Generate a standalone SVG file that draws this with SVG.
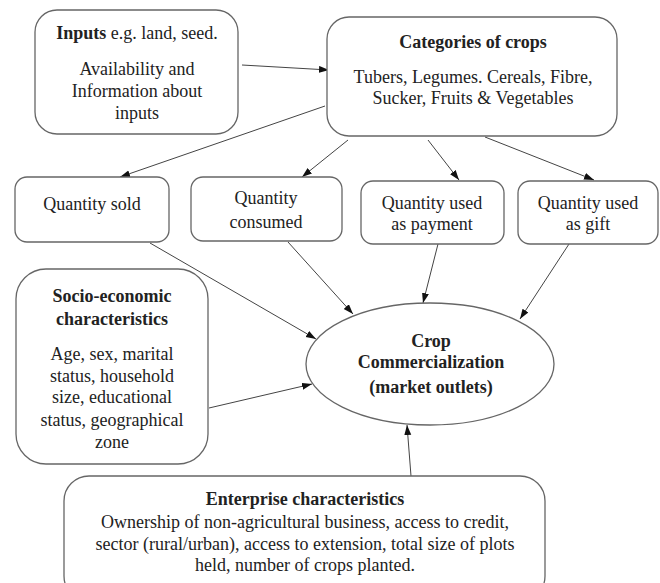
<svg xmlns="http://www.w3.org/2000/svg" width="660" height="583" viewBox="0 0 660 583">
<style>
.box{fill:#fff;stroke:#666;stroke-width:1.3}
.t{font-family:"Liberation Serif","Times New Roman",serif;font-size:18px;fill:#222;text-anchor:middle}
.b{font-weight:bold}
.c{stroke:#444;stroke-width:1;fill:none;marker-end:url(#ah)}
</style>
<defs>
<marker id="ah" markerUnits="userSpaceOnUse" markerWidth="11" markerHeight="8" refX="10" refY="3.5" orient="auto">
<path d="M0,0 L10,3.5 L0,7 z" fill="#111"/>
</marker>
</defs>
<rect width="660" height="583" fill="#fff"/>
<g id="connectors">
<line class="c" x1="242" y1="65" x2="329" y2="70"/>
<line class="c" x1="325" y1="106" x2="120" y2="177"/>
<line class="c" x1="348" y1="140" x2="302" y2="177"/>
<line class="c" x1="428" y1="140" x2="459" y2="180"/>
<line class="c" x1="485" y1="137" x2="594" y2="180"/>
<line class="c" x1="150" y1="243" x2="316" y2="339"/>
<line class="c" x1="288" y1="242" x2="353" y2="314"/>
<line class="c" x1="438" y1="244" x2="423" y2="303"/>
<line class="c" x1="569" y1="244" x2="520" y2="319"/>
<line class="c" x1="209" y1="408" x2="312" y2="384"/>
<line class="c" x1="411" y1="476" x2="407" y2="425"/>
</g>
<g id="inputs">
<rect class="box" x="35" y="10" width="203" height="124" rx="22"/>
<text class="t" x="137" y="39"><tspan class="b">Inputs</tspan> e.g. land, seed.</text>
<text class="t" x="137" y="75">Availability and</text>
<text class="t" x="137" y="97">Information about</text>
<text class="t" x="137" y="119">inputs</text>
</g>
<g id="categories">
<rect class="box" x="327" y="17" width="290" height="119" rx="22"/>
<text class="t b" x="473" y="48">Categories of crops</text>
<text class="t" x="473" y="83">Tubers, Legumes. Cereals, Fibre,</text>
<text class="t" x="473" y="104">Sucker, Fruits &amp; Vegetables</text>
</g>
<g id="sold">
<rect class="box" x="15" y="177" width="154" height="65" rx="12"/>
<text class="t" x="92" y="210">Quantity sold</text>
</g>
<g id="consumed">
<rect class="box" x="191" y="177" width="151" height="64" rx="12"/>
<text class="t" x="266" y="204">Quantity</text>
<text class="t" x="266" y="228">consumed</text>
</g>
<g id="payment">
<rect class="box" x="361" y="181" width="143" height="63" rx="12"/>
<text class="t" x="432" y="209">Quantity used</text>
<text class="t" x="432" y="230">as payment</text>
</g>
<g id="gift">
<rect class="box" x="518" y="181" width="140" height="63" rx="12"/>
<text class="t" x="588" y="209">Quantity used</text>
<text class="t" x="588" y="230">as gift</text>
</g>
<g id="commercialization">
<ellipse class="box" cx="430" cy="364" rx="124" ry="61"/>
<text class="t b" x="431" y="347">Crop</text>
<text class="t b" x="431" y="368">Commercialization</text>
<text class="t b" x="431" y="393">(market outlets)</text>
</g>
<g id="socio">
<rect class="box" x="16" y="269" width="192" height="195" rx="30"/>
<text class="t b" x="112" y="302">Socio-economic</text>
<text class="t b" x="112" y="325">characteristics</text>
<text class="t" x="112" y="360">Age, sex, marital</text>
<text class="t" x="112" y="382">status, household</text>
<text class="t" x="112" y="403">size, educational</text>
<text class="t" x="112" y="426">status, geographical</text>
<text class="t" x="112" y="448">zone</text>
</g>
<g id="enterprise">
<rect class="box" x="64" y="476" width="481" height="125" rx="25"/>
<text class="t b" x="305" y="505">Enterprise characteristics</text>
<text class="t" x="305" y="528">Ownership of non-agricultural business, access to credit,</text>
<text class="t" x="305" y="550">sector (rural/urban), access to extension, total size of plots</text>
<text class="t" x="305" y="571">held, number of crops planted.</text>
</g>
</svg>
